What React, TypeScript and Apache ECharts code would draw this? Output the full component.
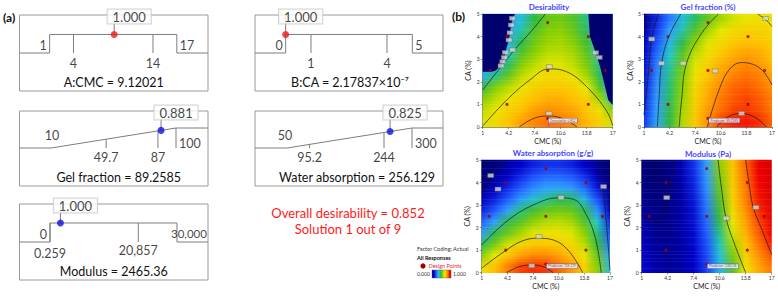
import React, { useEffect, useRef } from 'react';
import * as echarts from 'echarts';

const FONT = 'Lato, "Open Sans", "DejaVu Sans", sans-serif';

// ---------- (a) desirability ramps ----------
const cmcLimits = [1, 4, 14, 17];
const caLimits = [0, 1, 4, 5];
const gelLimits = [10, 49.7, 87, 100];
const waterLimits = [50, 95.2, 244, 300];
const modulusLimits = [0, 0.259, 20857, 30000];
const rampNames = ['A:CMC', 'B:CA', 'Gel fraction', 'Water absorption', 'Modulus'];
const solutionValues = [9.12021, 2.17837e-7, 89.2585, 256.129, 2465.36];
const solutionText = ['9.12021', '2.17837×10⁻⁷', '89.2585', '256.129', '2465.36'];
const solutionDesirability = [1.0, 1.0, 0.881, 0.825, 1.0];
const overallDesirability = 0.852;
const solutionIndex = 1;
const solutionCount = 9;

// ---------- (b) contour surfaces (0..1 colour level) ----------
const cmcGrid = [1, 2.6, 4.2, 5.8, 7.4, 9, 10.6, 12.2, 13.8, 15.4, 17];
const caRows = [4.75, 4.25, 3.75, 3.25, 2.75, 2.25, 1.75, 1.25, 0.75, 0.25];
const cmcTicks = [1, 4.2, 7.4, 10.6, 13.8, 17];

const desirabilitySurface = [
  [0.3, 0.3, 0.3, 0.36, 0.46, 0.52, 0.53, 0.5, 0.42, 0.35, 0.3],
  [0.3, 0.3, 0.32, 0.4, 0.5, 0.55, 0.56, 0.52, 0.44, 0.36, 0.3],
  [0.3, 0.3, 0.34, 0.45, 0.53, 0.57, 0.58, 0.55, 0.48, 0.38, 0.3],
  [0.3, 0.3, 0.38, 0.5, 0.56, 0.6, 0.6, 0.58, 0.51, 0.4, 0.3],
  [0.3, 0.32, 0.44, 0.55, 0.6, 0.63, 0.63, 0.6, 0.54, 0.42, 0.3],
  [0.33, 0.42, 0.52, 0.6, 0.65, 0.68, 0.68, 0.65, 0.58, 0.45, 0.3],
  [0.45, 0.55, 0.6, 0.65, 0.7, 0.72, 0.72, 0.7, 0.64, 0.5, 0.3],
  [0.55, 0.6, 0.65, 0.7, 0.74, 0.76, 0.76, 0.74, 0.7, 0.58, 0.4],
  [0.6, 0.65, 0.7, 0.74, 0.78, 0.8, 0.79, 0.77, 0.72, 0.66, 0.55],
  [0.63, 0.68, 0.73, 0.78, 0.81, 0.84, 0.83, 0.8, 0.75, 0.7, 0.62],
];
// zero-desirability (infeasible) regions [CMC, CA]
const desZeroLeft = [[1, 5], [5.0, 5], [4.65, 4.8], [4.5, 4.5], [4.35, 4.15], [4.2, 3.85], [3.9, 3.45], [3.7, 3.1], [3.45, 2.88], [3.2, 2.7], [2.6, 2.5], [2.1, 2.45], [1, 2.45]];
const desZeroRight = [[14.0, 5], [17, 5], [17, 0.97], [16.45, 1.2], [15.85, 2.1], [15.45, 2.67], [14.9, 3.3], [14.2, 4.0]];

const gelSurface = [
  [0.02, 0.15, 0.25, 0.36, 0.44, 0.52, 0.58, 0.62, 0.65, 0.66, 0.66],
  [0.05, 0.17, 0.3, 0.4, 0.5, 0.58, 0.64, 0.68, 0.7, 0.7, 0.68],
  [0.08, 0.2, 0.34, 0.45, 0.56, 0.63, 0.68, 0.72, 0.74, 0.73, 0.7],
  [0.1, 0.23, 0.38, 0.5, 0.6, 0.67, 0.72, 0.76, 0.78, 0.77, 0.73],
  [0.11, 0.26, 0.4, 0.53, 0.63, 0.7, 0.76, 0.79, 0.81, 0.79, 0.75],
  [0.12, 0.27, 0.42, 0.55, 0.66, 0.73, 0.78, 0.82, 0.84, 0.82, 0.78],
  [0.13, 0.28, 0.43, 0.56, 0.68, 0.76, 0.81, 0.85, 0.86, 0.84, 0.8],
  [0.14, 0.29, 0.44, 0.57, 0.7, 0.77, 0.83, 0.86, 0.88, 0.86, 0.82],
  [0.15, 0.3, 0.45, 0.58, 0.71, 0.79, 0.84, 0.88, 0.89, 0.87, 0.83],
  [0.17, 0.31, 0.46, 0.59, 0.72, 0.8, 0.88, 0.91, 0.92, 0.9, 0.85],
];
const waterSurface = [
  [0, 0.02, 0.06, 0.1, 0.14, 0.16, 0.16, 0.14, 0.1, 0.05, 0],
  [0, 0.05, 0.1, 0.15, 0.2, 0.23, 0.23, 0.21, 0.16, 0.08, 0],
  [0.03, 0.09, 0.15, 0.21, 0.27, 0.3, 0.31, 0.29, 0.23, 0.13, 0.02],
  [0.08, 0.14, 0.21, 0.29, 0.36, 0.41, 0.45, 0.44, 0.34, 0.2, 0.05],
  [0.14, 0.21, 0.3, 0.42, 0.48, 0.52, 0.53, 0.52, 0.45, 0.28, 0.1],
  [0.22, 0.3, 0.45, 0.5, 0.56, 0.59, 0.6, 0.58, 0.5, 0.38, 0.15],
  [0.3, 0.45, 0.52, 0.58, 0.63, 0.66, 0.66, 0.63, 0.56, 0.43, 0.2],
  [0.44, 0.53, 0.62, 0.68, 0.72, 0.72, 0.71, 0.68, 0.6, 0.47, 0.25],
  [0.55, 0.64, 0.72, 0.78, 0.81, 0.81, 0.78, 0.74, 0.65, 0.52, 0.3],
  [0.66, 0.74, 0.82, 0.88, 0.9, 0.89, 0.85, 0.79, 0.7, 0.56, 0.35],
];
const modulusSurface = [
  [0.02, 0, 0.02, 0.07, 0.16, 0.3, 0.56, 0.73, 0.85, 0.95, 0.98],
  [0.02, 0, 0.02, 0.07, 0.15, 0.29, 0.54, 0.72, 0.84, 0.94, 0.98],
  [0.03, 0.01, 0.02, 0.06, 0.14, 0.28, 0.52, 0.71, 0.83, 0.93, 0.98],
  [0.04, 0.02, 0.02, 0.06, 0.13, 0.26, 0.5, 0.7, 0.82, 0.92, 0.97],
  [0.05, 0.03, 0.03, 0.06, 0.12, 0.25, 0.48, 0.68, 0.8, 0.9, 0.96],
  [0.07, 0.03, 0.03, 0.06, 0.12, 0.23, 0.45, 0.65, 0.78, 0.88, 0.95],
  [0.08, 0.04, 0.03, 0.06, 0.11, 0.22, 0.42, 0.62, 0.76, 0.86, 0.94],
  [0.09, 0.05, 0.04, 0.06, 0.11, 0.2, 0.39, 0.58, 0.73, 0.83, 0.91],
  [0.1, 0.06, 0.04, 0.06, 0.1, 0.19, 0.36, 0.54, 0.7, 0.8, 0.87],
  [0.11, 0.07, 0.05, 0.06, 0.1, 0.18, 0.34, 0.5, 0.66, 0.77, 0.83],
];

// contour lines [CMC, CA]
const desContours = [
  [[1, 1.64], [3, 2.55], [5, 3.45], [7, 4.25], [8.7, 5]],
  [[1, 0.04], [3.95, 1.19], [6.8, 2.08], [9.16, 2.57], [11.3, 2.45], [13.8, 1.78], [16.3, 0.68], [17, 0.05]],
  [[5.5, 0], [7.3, 0.38], [9.16, 0.49], [11, 0.35], [12.6, 0]],
];
const gelContours = [
  [[1, 0.53], [1.5, 2.2], [1.96, 3.89], [2.8, 5]],
  [[2.67, 0], [2.9, 1.4], [3.2, 2.82], [4.1, 4.0], [5.6, 5]],
  [[5.4, 0], [5.7, 1.2], [6.3, 2.8], [8.2, 4.15], [10.3, 5]],
  [[8.9, 0], [10.5, 1.75], [11.8, 2.6], [13.2, 2.85], [15.5, 2.6], [17, 1.86]],
  [[10.1, 0], [11.5, 0.45], [13.2, 0.6], [15, 0.4], [16.3, 0]],
  [[15.2, 5], [16.2, 4.75], [17, 4.45]],
];
const waterContours = [
  [[1, 3.55], [2.2, 4.3], [3.7, 5]],
  [[1, 1.23], [4.2, 2.3], [7.4, 3.0], [10.6, 3.32], [12.5, 3.25], [14, 2.6], [15.2, 1.5], [15.9, 0]],
  [[1, 0.2], [3.9, 0.96], [6, 1.4], [8, 1.53], [11.1, 1.23], [13.6, 0]],
  [[4.1, 0], [5.8, 0.28], [7.4, 0.34], [8.8, 0.25], [9.9, 0]],
  [[15.66, 5], [16.1, 3.8], [16.6, 2], [17, 0.1]],
];
const modulusContours = [
  [[5.1, 5], [4.6, 4], [4.1, 3.33], [3.6, 2.6], [3.0, 2.3], [2.0, 2.28], [1, 2.55]],
  [[10.4, 5], [10.8, 3.8], [11.4, 2.4], [12.5, 1.2], [13.8, 0]],
  [[13.8, 5], [14.2, 4], [14.7, 2.93], [15.8, 1.9], [17, 0.8]],
];
const desLabelPts = [[4.65, 4.81], [4.52, 4.51], [4.36, 4.17], [4.24, 3.85], [4.69, 3.41], [3.78, 3.3], [3.66, 3.08], [3.46, 2.89], [3.25, 2.71], [9.2, 2.67], [14.9, 3.29], [15.35, 3.08], [9.16, 0.6]];
const gelLabelPts = [[1.96, 3.89], [3.2, 2.82], [5.9, 2.82], [9.9, 2.48], [13.2, 0.6], [16.2, 4.8]];
const waterLabelPts = [[2.12, 4.31], [3.03, 3.71], [10.9, 3.33], [8.15, 1.6], [7.24, 0.31], [16.2, 3.82]];
const modulusLabelPts = [[4.08, 3.33], [11.4, 2.42], [15.07, 2.9]];

const designCMC = [4, 14, 4, 14, 1.93, 16.07, 9, 9, 9];
const designCA = [1, 1, 4, 4, 2.5, 2.5, 0.38, 4.62, 2.5];
const plotTitles = ['Desirability', 'Gel fraction (%)', 'Water absorption (g/g)', 'Modulus (Pa)'];
const flagTexts = ['Desirability: 0.852', 'Prediction: 89.2585', 'Prediction: 256.129', 'Prediction: 2465.36'];

// ---------- layout ----------
const rampLayout = [
  { left: 19.5, top: 15, width: 188.5, height: 76, xMin: -2.79, xMax: 20.92, yMin: -2.05, yMax: 2.05, kind: 'range', capDx: 0 },
  { left: 255, top: 15, width: 188, height: 76, xMin: -1.21, xMax: 6.21, yMin: -2.05, yMax: 2.05, kind: 'range', capDx: 1 },
  { left: 19.5, top: 111, width: 188.5, height: 75, xMin: -12.68, xMax: 123.04, yMin: -1.9, yMax: 1.85, kind: 'ramp', capDx: 5 },
  { left: 255, top: 111, width: 188, height: 75, xMin: -14, xMax: 362, yMin: -1.9, yMax: 1.85, kind: 'ramp', capDx: 8 },
  { left: 19.5, top: 204, width: 188.5, height: 76, xMin: -7205, xMax: 37323, yMin: -2, yMax: 2, kind: 'range', capDx: 0 },
];
const contourLayout = [
  { left: 482.7, top: 14, width: 130, height: 113, titleX: 549, titleY: 7 },
  { left: 644, top: 14, width: 128, height: 113, titleX: 708, titleY: 7 },
  { left: 481.7, top: 160, width: 128.3, height: 112.7, titleX: 553, titleY: 153 },
  { left: 641.7, top: 160, width: 130, height: 112.7, titleX: 708, titleY: 154 },
];

const NAVY = '#00006e';
const cmapStops: [number, string][] = [
  [0, NAVY], [0.1, '#0000c8'], [0.2, '#1e50ff'], [0.3, '#30a0ff'], [0.38, '#20c8c8'],
  [0.46, '#30b840'], [0.56, '#8cd000'], [0.64, '#e8e800'], [0.74, '#ffc000'], [0.84, '#ff7000'],
  [0.94, '#f00000'], [1, '#d00000'],
];
function hexToRgb(h: string) {
  return [parseInt(h.slice(1, 3), 16), parseInt(h.slice(3, 5), 16), parseInt(h.slice(5, 7), 16)];
}
function rgbOf(v: number): number[] {
  const x = Math.max(0, Math.min(1, v));
  for (let i = 1; i < cmapStops.length; i++) {
    const [o1, c1] = cmapStops[i - 1];
    const [o2, c2] = cmapStops[i];
    if (x <= o2) {
      const t = (x - o1) / (o2 - o1);
      const a = hexToRgb(c1), b = hexToRgb(c2);
      return [a[0] + (b[0] - a[0]) * t, a[1] + (b[1] - a[1]) * t, a[2] + (b[2] - a[2]) * t];
    }
  }
  return hexToRgb(cmapStops[cmapStops.length - 1][1]);
}
function mixRgb(a: number[], b: number[], t: number) {
  return `rgb(${Math.round(a[0] + (b[0] - a[0]) * t)},${Math.round(a[1] + (b[1] - a[1]) * t)},${Math.round(a[2] + (b[2] - a[2]) * t)})`;
}

function fmtLimit(v: number) {
  return v >= 1000 ? v.toLocaleString('en-US') : String(v);
}

const SUB = 8; // sub-strips per row band (colour shading only)

function buildOption() {
  const grids: any[] = [];
  const xAxes: any[] = [];
  const yAxes: any[] = [];
  const series: any[] = [];
  const graphics: any[] = [];
  const limitsList = [cmcLimits, caLimits, gelLimits, waterLimits, modulusLimits];

  rampLayout.forEach((L, i) => {
    grids.push({ left: L.left, top: L.top, width: L.width, height: L.height, show: true, borderColor: '#9a9a9a', borderWidth: 1, backgroundColor: 'transparent' });
    xAxes.push({ gridIndex: i, type: 'value', min: L.xMin, max: L.xMax, show: false });
    yAxes.push({ gridIndex: i, type: 'value', min: L.yMin, max: L.yMax, show: false });
    const [mn, lo, hi, mx] = limitsList[i];
    const isRange = L.kind === 'range';
    const dAt = (x: number) => (isRange ? 1 : (x - mn) / (mx - mn));
    const v = solutionValues[i];
    const d = solutionDesirability[i];
    const lines: any[] = [];
    if (isRange) {
      lines.push({ coords: [[L.xMin, 0], [mn, 0], [mn, 1], [mx, 1], [mx, 0], [L.xMax, 0]] });
    } else {
      lines.push({ coords: [[L.xMin, 0], [mn, 0], [mx, 1], [L.xMax, 1]] });
      lines.push({ coords: [[mx, 1], [mx, 0]] });
    }
    lines.push({ coords: [[lo, dAt(lo)], [lo, 0]] });
    lines.push({ coords: [[hi, dAt(hi)], [hi, 0]] });
    lines.push({ coords: [[v, d], [v, L.yMax]] });
    series.push({
      type: 'lines', coordinateSystem: 'cartesian2d', xAxisIndex: i, yAxisIndex: i, polyline: true, silent: true,
      lineStyle: { color: '#7d7d7d', width: 1, opacity: 1 }, data: lines, z: 3,
    });
    series.push({
      type: 'scatter', xAxisIndex: i, yAxisIndex: i, symbolSize: 7, silent: true, z: 5,
      itemStyle: { color: i < 2 ? '#ee1c1c' : '#1212e6' }, data: [[v, d]],
    });
    const lab = (x: number, y: number, text: string, align: string, dx: number, dy: number, extra: any = {}) => ({
      value: [x, y],
      label: {
        show: true, position: 'inside', formatter: text, align, verticalAlign: 'middle', offset: [dx, dy],
        fontSize: 12.5, color: '#111', fontFamily: FONT, ...extra,
      },
    });
    const labels: any[] = [];
    if (i === 4) {
      labels.push(lab(mn, 0, fmtLimit(mn), 'right', -3, -8));
      labels.push(lab(mx, 0, fmtLimit(mx), 'left', -6, -9, { fontSize: 11.5 }));
      labels.push(lab(lo, 0, fmtLimit(lo), 'center', 0, 11));
      labels.push(lab(hi, 0, fmtLimit(hi), 'center', 0, 8));
    } else if (isRange) {
      labels.push(lab(mn, 0, fmtLimit(mn), 'right', -3, -8));
      labels.push(lab(mx, 0, fmtLimit(mx), 'left', 3, -8));
      labels.push(lab(lo, 0, fmtLimit(lo), 'center', 0, 10));
      labels.push(lab(hi, 0, fmtLimit(hi), 'center', 0, 10));
    } else {
      labels.push(lab(mn, 0, fmtLimit(mn), 'center', i === 2 ? 1 : -2, -13));
      labels.push(lab(mx, 0, fmtLimit(mx), 'left', 3, -5));
      labels.push(lab(lo, 0, fmtLimit(lo), 'center', 0, 9));
      labels.push(lab(hi, 0, fmtLimit(hi), 'center', 0, 9));
    }
    labels.push(lab(v, L.yMax, d.toFixed(3), 'center', 15, 1.5, {
      backgroundColor: '#ffffff', borderColor: '#c8c8c8', borderWidth: 1, padding: [1, 5, 0, 5], fontSize: 13,
    }));
    series.push({ type: 'scatter', xAxisIndex: i, yAxisIndex: i, symbolSize: 0, silent: true, z: 6, data: labels });
    graphics.push({
      type: 'text', x: L.left + L.width / 2 + L.capDx, y: L.top + L.height - 9, z: 10,
      style: { text: `${rampNames[i]} = ${solutionText[i]}`, fontSize: 12.5, fontFamily: FONT, fill: '#111', align: 'center', verticalAlign: 'middle' },
    });
  });

  const surfaces = [desirabilitySurface, gelSurface, waterSurface, modulusSurface];
  const contours = [desContours, gelContours, waterContours, modulusContours];
  const labelPts = [desLabelPts, gelLabelPts, waterLabelPts, modulusLabelPts];

  contourLayout.forEach((C, k) => {
    const gi = 5 + k;
    grids.push({ left: C.left, top: C.top, width: C.width, height: C.height, show: false });
    xAxes.push({
      gridIndex: gi, type: 'value', min: 1, max: 17, name: 'CMC (%)', nameLocation: 'middle', nameGap: 10,
      nameTextStyle: { fontSize: 7, color: '#222', fontFamily: FONT },
      axisLine: { show: true, onZero: false, lineStyle: { color: '#333', width: 0.6 } },
      axisTick: { show: true, customValues: cmcTicks, length: 2, lineStyle: { color: '#333', width: 0.5 } },
      axisLabel: { customValues: cmcTicks, fontSize: 5, margin: 3, color: '#333', fontFamily: FONT },
      splitLine: { show: false },
    });
    yAxes.push({
      gridIndex: gi, type: 'value', min: 0, max: 5, interval: 1, name: 'CA (%)', nameLocation: 'middle', nameGap: 11,
      nameTextStyle: { fontSize: 7, color: '#222', fontFamily: FONT },
      axisLine: { show: true, onZero: false, lineStyle: { color: '#333', width: 0.6 } },
      axisTick: { show: true, length: 2, lineStyle: { color: '#333', width: 0.5 } },
      axisLabel: { fontSize: 5, margin: 3, color: '#333', fontFamily: FONT },
      splitLine: { show: false },
    });
    const surf = surfaces[k];
    const rowRgb = surf.map((row) => row.map((v) => rgbOf(v)));
    series.push({
      type: 'custom', xAxisIndex: gi, yAxisIndex: gi, silent: true, z: 1,
      data: caRows.map((_, r) => [r]),
      renderItem: (_p: any, api: any) => {
        const r = api.value(0) as number;
        const ca = caRows[r];
        const children: any[] = [];
        for (let s = 0; s < SUB; s++) {
          const hiCA = ca + 0.25 - (0.5 * s) / SUB;
          const loCA = ca + 0.25 - (0.5 * (s + 1)) / SUB;
          const mid = (hiCA + loCA) / 2;
          let nb = r;
          let t = 0;
          if (mid > ca && r > 0) { nb = r - 1; t = (mid - ca) / 0.5; }
          if (mid < ca && r < caRows.length - 1) { nb = r + 1; t = (ca - mid) / 0.5; }
          const p1 = api.coord([1, Math.min(5, hiCA)]);
          const p2 = api.coord([17, Math.max(0, loCA)]);
          children.push({
            type: 'rect',
            shape: { x: p1[0], y: p1[1] - 0.25, width: p2[0] - p1[0], height: p2[1] - p1[1] + 0.5 },
            style: {
              fill: new echarts.graphic.LinearGradient(0, 0, 1, 0,
                cmcGrid.map((c, j) => ({ offset: (c - 1) / 16, color: mixRgb(rowRgb[r][j], rowRgb[nb][j], t) }))),
            },
          });
        }
        return { type: 'group', children };
      },
    });
    if (k === 0) {
      const regions = [desZeroLeft, desZeroRight];
      series.push({
        type: 'custom', xAxisIndex: gi, yAxisIndex: gi, silent: true, z: 2,
        data: regions.map((_, n) => [n]),
        renderItem: (_p: any, api: any) => ({
          type: 'polygon',
          shape: { points: regions[api.value(0) as number].map((pt) => api.coord(pt)) },
          style: { fill: NAVY },
        }),
      });
    }
    contours[k].forEach((pts) => {
      series.push({
        type: 'line', xAxisIndex: gi, yAxisIndex: gi, data: pts, smooth: 0.4, symbol: 'none', silent: true, z: 3,
        lineStyle: { color: '#1a1a1a', width: 0.7 },
      });
    });
    series.push({
      type: 'scatter', xAxisIndex: gi, yAxisIndex: gi, symbol: 'rect', symbolSize: [6, 4], silent: true, z: 4,
      itemStyle: { color: '#d8d8d8', borderColor: '#666', borderWidth: 0.5 }, data: labelPts[k],
    });
    series.push({
      type: 'scatter', xAxisIndex: gi, yAxisIndex: gi, symbolSize: 3.2, silent: true, z: 5,
      itemStyle: { color: '#a00000' }, data: designCMC.map((c, n) => [c, designCA[n]]),
    });
    series.push({
      type: 'scatter', xAxisIndex: gi, yAxisIndex: gi, symbol: 'rect', symbolSize: [0.8, 7], symbolOffset: [0, -3.5],
      silent: true, z: 6, itemStyle: { color: '#6a5acd' },
      data: [{
        value: [solutionValues[0], solutionValues[1]],
        label: {
          show: true, position: 'inside', align: 'left', verticalAlign: 'middle', offset: [0, -3], formatter: flagTexts[k],
          fontSize: 3.2, color: '#222', backgroundColor: '#fff', borderColor: '#6a5acd', borderWidth: 0.6, padding: [0.5, 1.5],
        },
      }],
    });
    graphics.push({
      type: 'text', x: C.titleX, y: C.titleY, z: 10,
      style: { text: plotTitles[k], fontSize: 8, fontWeight: 'bold', fontFamily: FONT, fill: '#4646ff', align: 'center', verticalAlign: 'middle' },
    });
  });

  graphics.push(
    { type: 'text', x: 3, y: 17, style: { text: '(a)', fontSize: 12, fontWeight: 'bold', fontFamily: FONT, fill: '#111', verticalAlign: 'middle' } },
    { type: 'text', x: 452, y: 16, style: { text: '(b)', fontSize: 12, fontWeight: 'bold', fontFamily: FONT, fill: '#111', verticalAlign: 'middle' } },
    { type: 'text', x: 348, y: 212.5, style: { text: `Overall desirability = ${overallDesirability.toFixed(3)}`, fontSize: 13, fontFamily: FONT, fill: '#ff1a1a', align: 'center', verticalAlign: 'middle' } },
    { type: 'text', x: 348, y: 228.5, style: { text: `Solution ${solutionIndex} out of ${solutionCount}`, fontSize: 13, fontFamily: FONT, fill: '#ff1a1a', align: 'center', verticalAlign: 'middle' } },
    { type: 'text', x: 417, y: 249, style: { text: 'Factor Coding: Actual', fontSize: 5.5, fontFamily: FONT, fill: '#333', verticalAlign: 'middle' } },
    { type: 'text', x: 417, y: 257.5, style: { text: 'All Responses', fontSize: 5.5, fontWeight: 'bold', fontFamily: FONT, fill: '#111', verticalAlign: 'middle' } },
    { type: 'circle', shape: { cx: 423, cy: 266, r: 2.6 }, style: { fill: '#a00000' } },
    { type: 'text', x: 428.5, y: 266, style: { text: 'Design Points', fontSize: 5.5, fontFamily: FONT, fill: '#e03030', verticalAlign: 'middle' } },
    { type: 'text', x: 417, y: 274, style: { text: '0.000', fontSize: 5, fontFamily: FONT, fill: '#333', verticalAlign: 'middle' } },
    {
      type: 'rect', shape: { x: 432, y: 270, width: 19, height: 8 },
      style: { fill: new echarts.graphic.LinearGradient(0, 0, 1, 0, cmapStops.map(([o, c]) => ({ offset: o, color: c }))), stroke: '#555', lineWidth: 0.4 },
    },
    { type: 'text', x: 453, y: 274, style: { text: '1.000', fontSize: 5, fontFamily: FONT, fill: '#333', verticalAlign: 'middle' } },
  );

  return { animation: false, backgroundColor: '#ffffff', grid: grids, xAxis: xAxes, yAxis: yAxes, series, graphic: graphics };
}

export default function App() {
  const ref = useRef<HTMLDivElement>(null);
  useEffect(() => {
    if (!ref.current) return;
    const chart = echarts.init(ref.current, undefined, { renderer: 'svg' });
    chart.setOption(buildOption() as any);
    return () => chart.dispose();
  }, []);
  return <div ref={ref} style={{ position: 'absolute', left: 0, top: 0, width: 778, height: 297 }} />;
}
